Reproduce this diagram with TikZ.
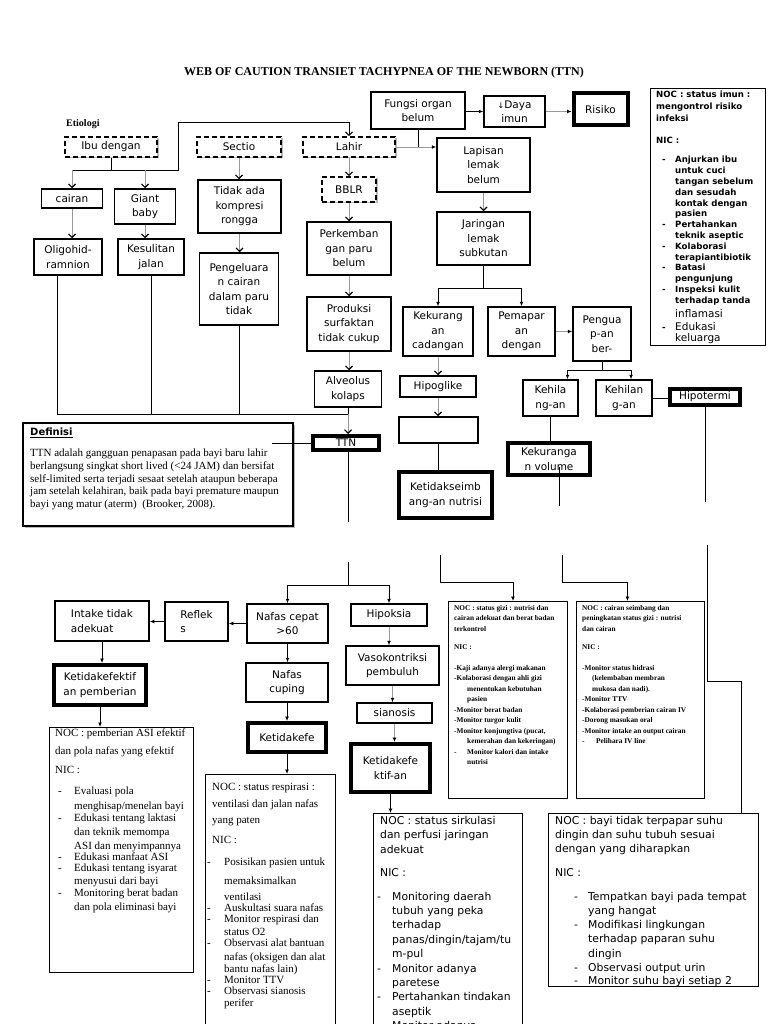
\documentclass[tikz,border=0pt]{standalone}
\usepackage{fontspec}
\setmainfont{Liberation Serif}
\setsansfont{DejaVu Sans}
\usetikzlibrary{arrows.meta, shadows}
\newcommand{\butir}[2]{\makebox[#2][l]{\hspace*{#1}-}}

\tikzset{
  bayang/.style={drop shadow={shadow xshift=1.5pt, shadow yshift=-1.5pt, fill=black!45, opacity=0.6}},
  kotak/.style={draw, line width=1.5pt, fill=white, align=center, inner sep=1pt, font=\sffamily\fontsize{10.5}{14.5}\selectfont},
  kotaktebal/.style={kotak, line width=4pt, bayang},
  kotakputus/.style={kotak, line width=1.8pt, dash pattern=on 5pt off 3pt, bayang},
  kotaknoc/.style={draw, line width=0.9pt, fill=white, inner sep=0pt},
  garis/.style={draw=black, line width=0.9pt},
  panah/.style={garis, -{Latex[length=4.5pt, width=4pt]}},
  panahgelap/.style={garis, -{Straight Barb[length=3.5pt, width=7pt, line width=1.1pt]}},
  panahv/.style={draw=black!40, line width=0.9pt, -{Straight Barb[color=black, length=3.5pt, width=7pt, line width=1.1pt]}},
  panahabu/.style={draw=black!40, line width=0.9pt, -{Latex[color=black, length=4.5pt, width=4pt]}},
}

\begin{document}
\begin{tikzpicture}[x=1pt, y=-1pt]
\clip (0,0) rectangle (768,1024);
\fill[white] (0,0) rectangle (768,1024);

\node[font=\bfseries\fontsize{12}{14}\selectfont] (judul) at (384,73) {WEB OF CAUTION TRANSIET TACHYPNEA OF THE NEWBORN (TTN)};
\node[font=\bfseries\fontsize{10}{12}\selectfont, anchor=west, inner sep=0pt] (etiologi) at (66,124) {Etiologi};

% etiologi
\node[kotakputus, minimum width=92pt, minimum height=20pt] (ibu) at (111,147) {Ibu dengan};
\node[kotakputus, minimum width=84pt, minimum height=20pt] (sectio) at (239,147) {Sectio};
\node[kotakputus, minimum width=92pt, minimum height=20pt] (lahir) at (349,147) {Lahir};
\node[kotakputus, minimum width=54pt, minimum height=25pt] (bblr) at (349,189.5) {BBLR};
\node[kotak, minimum width=94pt, minimum height=37pt] (fungsi) at (418,110.5) {Fungsi organ\\belum};
\node[kotak, minimum width=61pt, minimum height=31pt] (daya) at (514.5,111.5) {{\fontsize{8}{8}\selectfont ↓}Daya\\imun};
\node[kotaktebal, minimum width=54pt, minimum height=32pt] (risiko) at (600.5,109.5) {Risiko};
\node[kotaknoc, anchor=north west, minimum width=115pt, minimum height=257pt] (nocimun) at (650,88) {};
\node[kotak, minimum width=93pt, minimum height=54pt] (lapisan) at (483.5,165) {Lapisan\\lemak\\belum};
\node[kotak, minimum width=93pt, minimum height=53pt] (jaringan) at (483.5,238.5) {Jaringan\\lemak\\subkutan};
\node[kotak, minimum width=61pt, minimum height=19pt] (cairan) at (72,198.5) {cairan};
\node[kotak, minimum width=61pt, minimum height=35pt] (giant) at (145,206.5) {Giant\\baby};
\node[kotak, minimum width=68pt, minimum height=36pt] (oligo) at (68,257) {Oligohid-\\ramnion};
\node[kotak, minimum width=66pt, minimum height=36pt] (kesulitan) at (151,257) {Kesulitan\\jalan};
\node[kotak, minimum width=83pt, minimum height=53pt] (tidakada) at (239.5,206.5) {Tidak ada\\kompresi\\rongga};
\node[kotak, minimum width=79pt, minimum height=72pt] (pengeluaran) at (239,289) {Pengeluara\\n cairan\\dalam paru\\tidak};
\node[kotak, minimum width=84pt, minimum height=53pt] (perkembangan) at (349,248.5) {Perkemban\\gan paru\\belum};
\node[kotak, minimum width=84pt, minimum height=54pt] (produksi) at (349,324) {Produksi\\surfaktan\\tidak cukup};
\node[kotak, minimum width=67pt, minimum height=36pt] (alveolus) at (348,389) {Alveolus\\kolaps};
\node[kotaktebal, minimum width=66pt, minimum height=14pt] (ttn) at (346,443) {TTN};

\node[draw, line width=1.3pt, fill=white, minimum width=270pt, minimum height=103pt, bayang] (definisi) at (158,474.5) {};
\node[anchor=west, inner sep=0pt, font=\sffamily\bfseries\fontsize{10}{12}\selectfont] (defjudul) at (30,433) {\underline{Definisi}};
\node[anchor=north west, inner sep=0pt, align=left, font=\fontsize{11}{12.7}\selectfont] (defteks) at (30,449) {TTN adalah gangguan penapasan pada bayi baru lahir\\berlangsung singkat short lived (<24 JAM) dan bersifat\\self-limited serta terjadi sesaat setelah ataupun beberapa\\jam setelah kelahiran, baik pada bayi premature maupun\\bayi yang matur (aterm)~ (Brooker, 2008).};

\node[kotak, minimum width=70pt, minimum height=49pt] (kekurangan) at (438,331.5) {Kekurang\\an\\cadangan};
\node[kotak, minimum width=67pt, minimum height=49pt] (pemaparan) at (521.5,331.5) {Pemapar\\an\\dengan};
\node[kotak, minimum width=58pt, minimum height=54pt] (penguapan) at (602,334) {Pengua\\p-an\\ber-};
\node[kotak, minimum width=76pt, minimum height=21pt] (hipoglike) at (438,386.5) {Hipoglike};
\node[kotak, minimum width=79pt, minimum height=26pt] (kosong) at (438.5,430) {};
\node[kotaktebal, minimum width=93pt, minimum height=46pt] (seimbang) at (445.5,495) {Ketidakseimb\\ang-an nutrisi};
\node[kotak, minimum width=55pt, minimum height=36pt] (kehilangan1) at (550.5,398) {Kehila\\ng-an};
\node[kotak, minimum width=56pt, minimum height=36pt] (kehilangan2) at (624,398) {Kehilan\\g-an};
\node[kotaktebal, minimum width=70pt, minimum height=16pt] (hipotermi) at (705,397) {Hipotermi};
\node[kotaktebal, minimum width=82pt, minimum height=32pt] (kekvol) at (549,459) {Kekuranga\\n volume};

% masalah
\node[kotak, align=left, minimum width=94pt, minimum height=40pt] (intake) at (102,621) {Intake tidak\\adekuat};
\node[kotak, align=left, minimum width=63pt, minimum height=39pt] (reflek) at (196.5,621.5) {Reflek\\s};
\node[kotak, minimum width=81pt, minimum height=39pt] (nafascepat) at (287.5,623.5) {Nafas cepat\\>60};
\node[kotak, minimum width=76pt, minimum height=22pt] (hipoksia) at (389,615) {Hipoksia};
\node[kotaktebal, minimum width=92pt, minimum height=40pt] (pemberian) at (100,685) {Ketidakefektif\\an pemberian};
\node[kotak, minimum width=82pt, minimum height=39pt] (cuping) at (287,682.5) {Nafas\\cuping};
\node[kotaktebal, minimum width=78pt, minimum height=29pt] (pola) at (287,737.5) {Ketidakefe};
\node[kotak, minimum width=93pt, minimum height=39pt] (vaso) at (392.5,665.5) {Vasokontriksi\\pembuluh};
\node[kotak, minimum width=75pt, minimum height=20pt] (sianosis) at (394.5,713) {sianosis};
\node[kotaktebal, minimum width=79pt, minimum height=48pt] (perfusi) at (390.5,768) {Ketidakefe\\ktif-an};

% NOC / NIC
\node[kotaknoc, anchor=north west, minimum width=144pt, minimum height=245pt] (noc1) at (49,727) {};
\node[kotaknoc, anchor=north west, minimum width=130pt, minimum height=270pt] (noc2) at (205,774) {};
\node[kotaknoc, anchor=north west, minimum width=149pt, minimum height=230pt] (noc3) at (373,813) {};
\node[kotaknoc, anchor=north west, minimum width=210pt, minimum height=173pt] (noc4) at (548,813) {};
\node[kotaknoc, anchor=north west, minimum width=119pt, minimum height=197pt] (noca) at (448,601) {};
\node[kotaknoc, anchor=north west, minimum width=128pt, minimum height=197pt] (nocb) at (576,601) {};

\begin{scope}
\clip (nocimun.north west) rectangle (nocimun.south east);
\node[anchor=north west, inner sep=0pt, align=left, font=\sffamily\bfseries\fontsize{8.6}{10.8}\selectfont] (imunteks) at (656,91) {NOC : status imun :\\[1pt]mengontrol risiko\\[1pt]infeksi\\[11pt]NIC :\\[9pt]
\butir{6pt}{19pt}Anjurkan ibu\\ \hspace*{19pt}untuk cuci\\ \hspace*{19pt}tangan sebelum\\ \hspace*{19pt}dan sesudah\\ \hspace*{19pt}kontak dengan\\ \hspace*{19pt}pasien\\
\butir{6pt}{19pt}Pertahankan\\ \hspace*{19pt}teknik aseptic\\
\butir{6pt}{19pt}Kolaborasi\\ \hspace*{19pt}terapiantibiotik\\
\butir{6pt}{19pt}Batasi\\ \hspace*{19pt}pengunjung\\
\butir{6pt}{19pt}Inspeksi kulit\\ \hspace*{19pt}terhadap tanda\\[3pt]
\hspace*{19pt}{\mdseries\fontsize{10.5}{12}\selectfont inflamasi}\\[3pt]
\butir{6pt}{19pt}{\mdseries\fontsize{10.5}{12}\selectfont Edukasi}\\
\hspace*{19pt}{\mdseries\fontsize{10.5}{12}\selectfont keluarga}};
\end{scope}

\node[anchor=north west, inner sep=0pt, align=left, font=\fontsize{11}{14}\selectfont] (noc1teks) at (55,729) {NOC : pemberian ASI efektif\\[4pt]
dan pola nafas yang efektif\\[5pt]
NIC :\\[7pt]
\butir{3pt}{19pt}Evaluasi pola\\[1pt]
\hspace*{19pt}menghisap/menelan bayi\\[-2pt]
\butir{3pt}{19pt}Edukasi tentang laktasi\\
\hspace*{19pt}dan teknik memompa\\
\hspace*{19pt}ASI dan menyimpannya\\[-3pt]
\butir{3pt}{19pt}Edukasi manfaat ASI\\[-3pt]
\butir{3pt}{19pt}Edukasi tentang isyarat\\[-1pt]
\hspace*{19pt}menyusui dari bayi\\[-2pt]
\butir{3pt}{19pt}Monitoring berat badan\\
\hspace*{19pt}dan pola eliminasi bayi};

\node[anchor=north west, inner sep=0pt, align=left, font=\fontsize{11}{14}\selectfont] (noc2teks) at (207,783) {\hspace*{5pt}NOC : status respirasi :\\[3pt]
\hspace*{5pt}ventilasi dan jalan nafas\\[2pt]
\hspace*{5pt}yang paten\\[6pt]
\hspace*{5pt}NIC :\\[8pt]
\butir{0pt}{17pt}Posisikan pasien untuk\\[5pt]
\hspace*{17pt}memaksimalkan\\[2pt]
\hspace*{17pt}ventilasi\\[-3pt]
\butir{0pt}{17pt}Auskultasi suara nafas\\[-3pt]
\butir{0pt}{17pt}Monitor respirasi dan\\[-1pt]
\hspace*{17pt}status O2\\[-3pt]
\butir{0pt}{17pt}Observasi alat bantuan\\
\hspace*{17pt}nafas (oksigen dan alat\\[-2pt]
\hspace*{17pt}bantu nafas lain)\\[-3pt]
\butir{0pt}{17pt}Monitor TTV\\[-3pt]
\butir{0pt}{17pt}Observasi sianosis\\[-2pt]
\hspace*{17pt}perifer};

\node[anchor=north west, inner sep=0pt, align=left, font=\sffamily\fontsize{10.8}{14.4}\selectfont] (noc3teks) at (377,816) {\hspace*{3pt}NOC : status sirkulasi\\
\hspace*{3pt}dan perfusi jaringan\\
\hspace*{3pt}adekuat\\[8.5pt]
\hspace*{3pt}NIC :\\[9.5pt]
\butir{0pt}{15pt}Monitoring daerah\\
\hspace*{15pt}tubuh yang peka\\
\hspace*{15pt}terhadap\\
\hspace*{15pt}panas/dingin/tajam/tu\\
\hspace*{15pt}m-pul\\
\butir{0pt}{15pt}Monitor adanya\\
\hspace*{15pt}paretese\\
\butir{0pt}{15pt}Pertahankan tindakan\\
\hspace*{15pt}aseptik\\
\butir{0pt}{15pt}Monitor adanya};

\begin{scope}
\clip (noc4.north west) rectangle (noc4.south east);
\node[anchor=north west, inner sep=0pt, align=left, font=\sffamily\fontsize{10.8}{14.2}\selectfont] (noc4teks) at (555,816) {NOC : bayi tidak terpapar suhu\\
dingin dan suhu tubuh sesuai\\
dengan yang diharapkan\\[9pt]
NIC :\\[10pt]
\butir{19pt}{33pt}Tempatkan bayi pada tempat\\
\hspace*{33pt}yang hangat\\
\butir{19pt}{33pt}Modifikasi lingkungan\\
\hspace*{33pt}terhadap paparan suhu\\
\hspace*{33pt}dingin\\
\butir{19pt}{33pt}Observasi output urin\\[-1pt]
\butir{19pt}{33pt}Monitor suhu bayi setiap 2};
\end{scope}

\node[anchor=north west, inner sep=0pt, align=left, font=\bfseries\fontsize{7.3}{10.5}\selectfont] (nocateks) at (454,605) {NOC : status gizi : nutrisi dan\\
cairan adekuat dan berat badan\\
terkontrol\\[8pt]
NIC :\\[10pt]
-Kaji adanya alergi makanan\\
-Kolaborasi dengan ahli gizi\\
\hspace*{13pt}menentukan kebutuhan\\
\hspace*{13pt}pasien\\
-Monitor berat badan\\
-Monitor turgor kulit\\
-Monitor konjungtiva (pucat,\\
\hspace*{13pt}kemerahan dan kekeringan)\\
\butir{0pt}{13pt}Monitor kalori dan intake\\
\hspace*{13pt}nutrisi};

\node[anchor=north west, inner sep=0pt, align=left, font=\bfseries\fontsize{7.3}{10.5}\selectfont] (nocbteks) at (582,605) {NOC : cairan seimbang dan\\
peningkatan status gizi : nutrisi\\
dan cairan\\[8pt]
NIC :\\[10pt]
-Monitor status hidrasi\\
\hspace*{10pt}(kelembaban membran\\
\hspace*{10pt}mukosa dan nadi).\\
-Monitor TTV\\
-Kolaborasi pemberian cairan IV\\
-Dorong masukan oral\\
-Monitor intake an output cairan\\
\butir{0pt}{14pt}Pelihara IV line};

% penghubung
\coordinate (kiri) at (72,170);
\coordinate (kanan) at (178,170);
\coordinate (atas) at (178,122);
\draw[garis] (ibu.south) -- (ibu.south |- kiri);
\draw[garis] (kiri) -- (kanan) -- (atas);
\draw[panahgelap] (atas) -| (lahir.north);
\draw[panahv] (kiri) -- (cairan.north);
\draw[panahv] (giant.north |- kiri) -- (giant.north);
\draw[panahv] (cairan.south) -- (cairan.south |- oligo.north);
\draw[panahv] (giant.south) -- (giant.south |- kesulitan.north);
\draw[panahv] (sectio.south) -- (sectio.south |- tidakada.north);
\draw[panahv] (tidakada.south) -- (tidakada.south |- pengeluaran.north);
\draw[panahv] (lahir) -- (bblr);
\draw[panahv] (bblr) -- (perkembangan);
\draw[panahv] (perkembangan) -- (produksi);
\draw[panahv] (produksi.south) -- (produksi.south |- alveolus.north);

\coordinate (kumpul) at (348,414);
\draw[garis] ([xshift=-11pt]oligo.south) |- (kumpul);
\draw[garis] (kesulitan.south) -- (kesulitan.south |- kumpul);
\draw[garis] (pengeluaran.south) -- (pengeluaran.south |- kumpul);
\draw[garis] (alveolus.south) -- (kumpul);
\draw[panahv] (kumpul) -- (kumpul |- ttn.north);
\coordinate (defkanan) at (272,443);
\draw[garis] (defkanan) -- (ttn.west);

\draw[panah] (fungsi.east |- daya.west) -- (daya.west);
\draw[panahabu] (daya.east) -- (risiko.west |- daya.east);
\draw[garis] (fungsi.south) -- (fungsi.south |- lahir.east);
\draw[panahabu] (lahir.east) -- (lapisan.west |- lahir.east);
\draw[panahv] (lapisan) -- (jaringan);
\coordinate (cabang1) at (483.5,288);
\draw[garis] (jaringan.south) -- (cabang1);
\draw[panah] (cabang1) -| (kekurangan.north);
\draw[panah] (cabang1) -| (pemaparan.north);
\draw[panahabu] (pemaparan.east) -- (penguapan.west |- pemaparan.east);
\coordinate (cabang2) at (602,370);
\draw[garis] (penguapan.south) -- (cabang2);
\draw[panah] (cabang2) -| ([xshift=17pt]kehilangan1.north);
\draw[panah] (cabang2) -| ([xshift=7pt]kehilangan2.north);
\draw[panahv] (kekurangan.south) -- (kekurangan.south |- hipoglike.north);
\draw[panahv] (hipoglike.south) -- (hipoglike.south |- kosong.north);
\draw[garis] (kosong.south) -- (kosong.south |- seimbang.north);
\draw[garis] (kehilangan1.south) -- (kehilangan1.south |- kekvol.north);
\draw[garis] (kehilangan2.east) -- (hipotermi.west |- kehilangan2.east);

\coordinate (hipo1) at (705,502);
\draw[garis] (hipotermi.south) -- (hipo1);
\coordinate (hipo2) at (707,545);
\coordinate (belok) at (741,681);
\draw[garis] (hipo2) |- (belok) -- (noc4.north -| belok);
\coordinate (cair0) at (559,467);
\coordinate (cair1) at (559,506);
\draw[garis] (cair0) -- (cair1);
\coordinate (cair2) at (562,555);
\coordinate (cair3) at (562,582);
\draw[garis] (cair2) -- (cair3);
\draw[panah] (cair3) -| ([xshift=-13pt]nocb.north);
\coordinate (gizi1) at (440,555);
\coordinate (gizi2) at (440,582);
\draw[garis] (gizi1) -- (gizi2);
\draw[panah] (gizi2) -| ([xshift=5pt]noca.north);

\coordinate (ttn1) at (348,522);
\draw[garis] (ttn.south -| ttn1) -- (ttn1);
\coordinate (ttn2) at (348,562);
\coordinate (ttn3) at (348,585);
\draw[garis] (ttn2) -- (ttn3);
\draw[panah] (ttn3) -| (nafascepat.north);
\draw[panah] (ttn3) -| (hipoksia.north);
\draw[panah] (nafascepat.west) -- (reflek.east |- nafascepat.west);
\draw[panah] (reflek.west) -- (intake.east |- reflek.west);
\draw[panah] (intake.south) -- (intake.south |- pemberian.north);
\draw[panah] (pemberian.south) -- (pemberian.south |- noc1.north);
\draw[panah] (nafascepat.south) -- (nafascepat.south |- cuping.north);
\draw[panah] (cuping.south) -- (cuping.south |- pola.north);
\draw[panah] (pola.south) -- (pola.south |- noc2.north);
\draw[panahabu] (hipoksia.south) -- (hipoksia.south |- vaso.north);
\draw[panahabu] (vaso.south) -- (vaso.south |- sianosis.north);
\draw[panahabu] (sianosis.south) -- (sianosis.south |- perfusi.north);
\draw[panah] (perfusi.south) -- (perfusi.south |- noc3.north);
\end{tikzpicture}
\end{document}
